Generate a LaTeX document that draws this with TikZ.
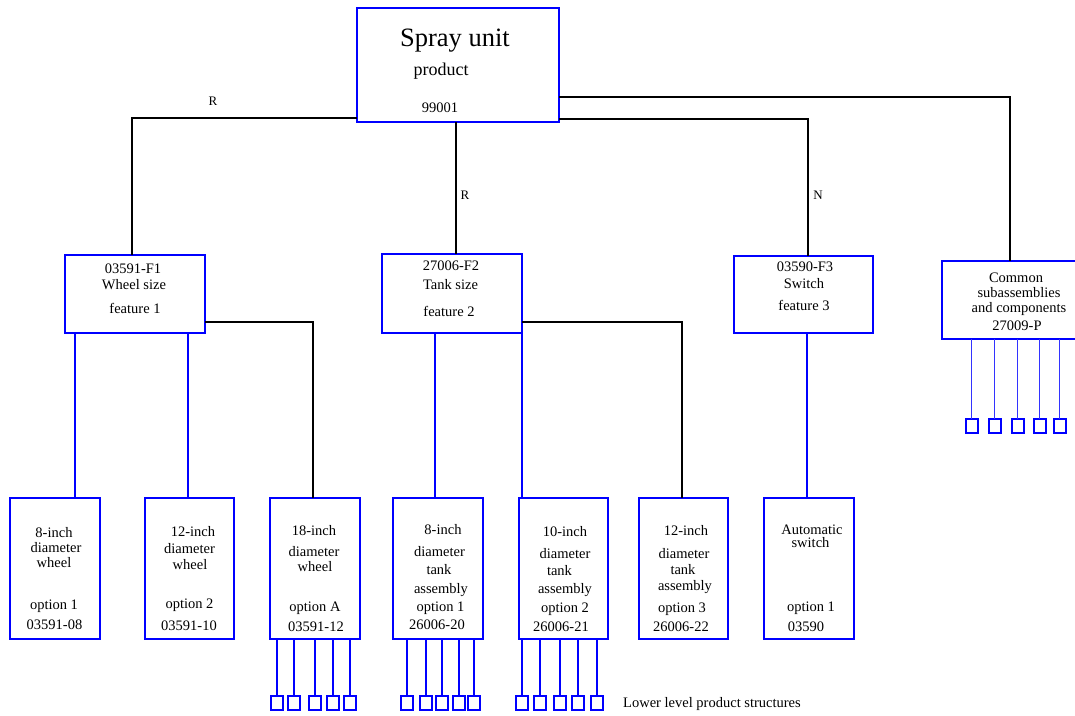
\documentclass[tikz,border=0pt]{standalone}
\usepackage{fontspec}
\setmainfont{Liberation Serif}
\begin{document}
\begin{tikzpicture}[x=1pt,y=-1pt,
  box/.style={draw=blue, line width=2pt, inner sep=0pt, outer sep=0pt},
  conn/.style={draw=black, line width=2.2pt},
  bl/.style={draw=blue, line width=2pt},
  thinbl/.style={draw=blue!80!white, line width=1.3pt},
  sq/.style={draw=blue, line width=2pt, minimum width=12pt, minimum height=14pt, inner sep=0pt, outer sep=0pt},
  t/.style={anchor=base, inner sep=0pt, font=\fontsize{14.5}{16}\selectfont},
  lab/.style={anchor=base, inner sep=0pt, font=\fontsize{13}{15}\selectfont}]
\useasboundingbox (0,0) rectangle (1075,715);

% boxes
\node[box, minimum width=202pt, minimum height=114pt] (top) at (458,65) {};
\node[box, minimum width=140pt, minimum height=78pt] (f1) at (135,294) {};
\node[box, minimum width=140pt, minimum height=79pt] (f2) at (452,293.5) {};
\node[box, minimum width=139pt, minimum height=77pt] (f3) at (803.5,294.5) {};
\node[box, minimum width=136pt, minimum height=78pt] (com) at (1010,300) {};
\node[box, minimum width=90pt, minimum height=141pt] (b1) at (55,568.5) {};
\node[box, minimum width=89pt, minimum height=141pt] (b2) at (189.5,568.5) {};
\node[box, minimum width=90pt, minimum height=141pt] (b3) at (315,568.5) {};
\node[box, minimum width=90pt, minimum height=141pt] (b4) at (438,568.5) {};
\node[box, minimum width=89pt, minimum height=141pt] (b5) at (563.5,568.5) {};
\node[box, minimum width=89pt, minimum height=141pt] (b6) at (683.5,568.5) {};
\node[box, minimum width=90pt, minimum height=141pt] (b7) at (809,568.5) {};

% top box texts
\node[anchor=base, inner sep=0pt, font=\fontsize{26.5}{30}\selectfont] (ttl) at (455,46) {Spray unit};
\node[anchor=base, inner sep=0pt, font=\fontsize{18}{20}\selectfont] (tpr) at (441,75) {product};
\node[t] (tnum) at (440,112) {99001};

% feature texts
\node[t] (f1a) at (133,273) {03591-F1};
\node[t] (f1b) at (134,289) {Wheel size};
\node[t] (f1c) at (135,313) {feature 1};
\node[t] (f2a) at (451,270) {27006-F2};
\node[t] (f2b) at (450.5,289) {Tank size};
\node[t] (f2c) at (449,316) {feature 2};
\node[t] (f3a) at (805,271) {03590-F3};
\node[t] (f3b) at (804,288) {Switch};
\node[t] (f3c) at (804,310) {feature 3};
\node[t] (ca) at (1016,282) {Common};
\node[t] (cb) at (1019,297) {subassemblies};
\node[t] (cc) at (1019,312) {and components};
\node[t] (cd) at (1017,330) {27009-P};

% option texts
\node[t] (b1a) at (54,537) {8-inch};
\node[t] (b1b) at (56,552) {diameter};
\node[t] (b1c) at (54,567) {wheel};
\node[t] (b1d) at (54,609) {option 1};
\node[t] (b1e) at (54.5,629) {03591-08};

\node[t] (b2a) at (193,536) {12-inch};
\node[t] (b2b) at (189.5,553) {diameter};
\node[t] (b2c) at (190,569) {wheel};
\node[t] (b2d) at (189.5,608) {option 2};
\node[t] (b2e) at (189,630) {03591-10};

\node[t] (b3a) at (314,535) {18-inch};
\node[t] (b3b) at (314,556) {diameter};
\node[t] (b3c) at (315,571) {wheel};
\node[t] (b3d) at (315,611) {option A};
\node[t] (b3e) at (316,631) {03591-12};

\node[t] (b4a) at (443,534) {8-inch};
\node[t] (b4b) at (439.5,556) {diameter};
\node[t] (b4c) at (439,574) {tank};
\node[t] (b4d) at (441,593) {assembly};
\node[t] (b4e) at (440.5,611) {option 1};
\node[t] (b4f) at (437,629) {26006-20};

\node[t] (b5a) at (565,536) {10-inch};
\node[t] (b5b) at (565,558) {diameter};
\node[t] (b5c) at (559.5,575) {tank};
\node[t] (b5d) at (565,593) {assembly};
\node[t] (b5e) at (565,612) {option 2};
\node[t] (b5f) at (561,631) {26006-21};

\node[t] (b6a) at (686,535) {12-inch};
\node[t] (b6b) at (684,558) {diameter};
\node[t] (b6c) at (683,574) {tank};
\node[t] (b6d) at (685,590) {assembly};
\node[t] (b6e) at (682,612) {option 3};
\node[t] (b6f) at (681,631) {26006-22};

\node[t] (b7a) at (812,534) {Automatic};
\node[t] (b7b) at (810.5,547) {switch};
\node[t] (b7c) at (811,611) {option 1};
\node[t] (b7d) at (806,631) {03590};

\node[t, anchor=base west] (low) at (623,707) {Lower level product structures};

% labels
\node[lab] (r1) at (213,105) {R};
\node[lab] (r2) at (465,199) {R};
\node[lab] (n1) at (818,199) {N};

% top-level connectors
\draw[conn] (top.west |- 0,118) -| (f1.north -| 132,0);
\draw[conn] (top.south -| 456,0) -- (f2.north -| 456,0);
\draw[conn] (top.east |- 0,97) -| (com.north -| 1010,0);
\draw[conn] (top.east |- 0,119) -| (f3.north -| 808,0);

% feature to option connectors
\draw[bl] (f1.south -| 75,0) -- (b1.north -| 75,0);
\draw[bl] (f1.south -| 188,0) -- (b2.north -| 188,0);
\draw[conn] (f1.east |- 0,322) -| (b3.north -| 313,0);
\draw[bl] (f2.south -| 435,0) -- (b4.north -| 435,0);
\draw[bl] (f2.south -| 522,0) -- (b5.north -| 522,0);
\draw[conn] (f2.east |- 0,322) -| (b6.north -| 682,0);
\draw[bl] (f3.south -| 807,0) -- (b7.north -| 807,0);

% lower level squares
\foreach \x [count=\i] in {277,294,314.5,333,350}{
  \node[sq] (s3\i) at (\x,703) {};
  \draw[bl] (b3.south -| s3\i) -- (s3\i.north);
}
\foreach \x [count=\i] in {407,425.5,442,459,474}{
  \node[sq] (s4\i) at (\x,703) {};
  \draw[bl] (b4.south -| s4\i) -- (s4\i.north);
}
\foreach \x [count=\i] in {522,539.5,560,577.5,597}{
  \node[sq] (s5\i) at (\x,703) {};
  \draw[bl] (b5.south -| s5\i) -- (s5\i.north);
}
\foreach \x [count=\i] in {971.5,994.5,1017.5,1039.5,1059.5}{
  \node[sq] (sc\i) at (\x,426) {};
  \draw[thinbl] (com.south -| sc\i) -- (sc\i.north);
}
\end{tikzpicture}
\end{document}
